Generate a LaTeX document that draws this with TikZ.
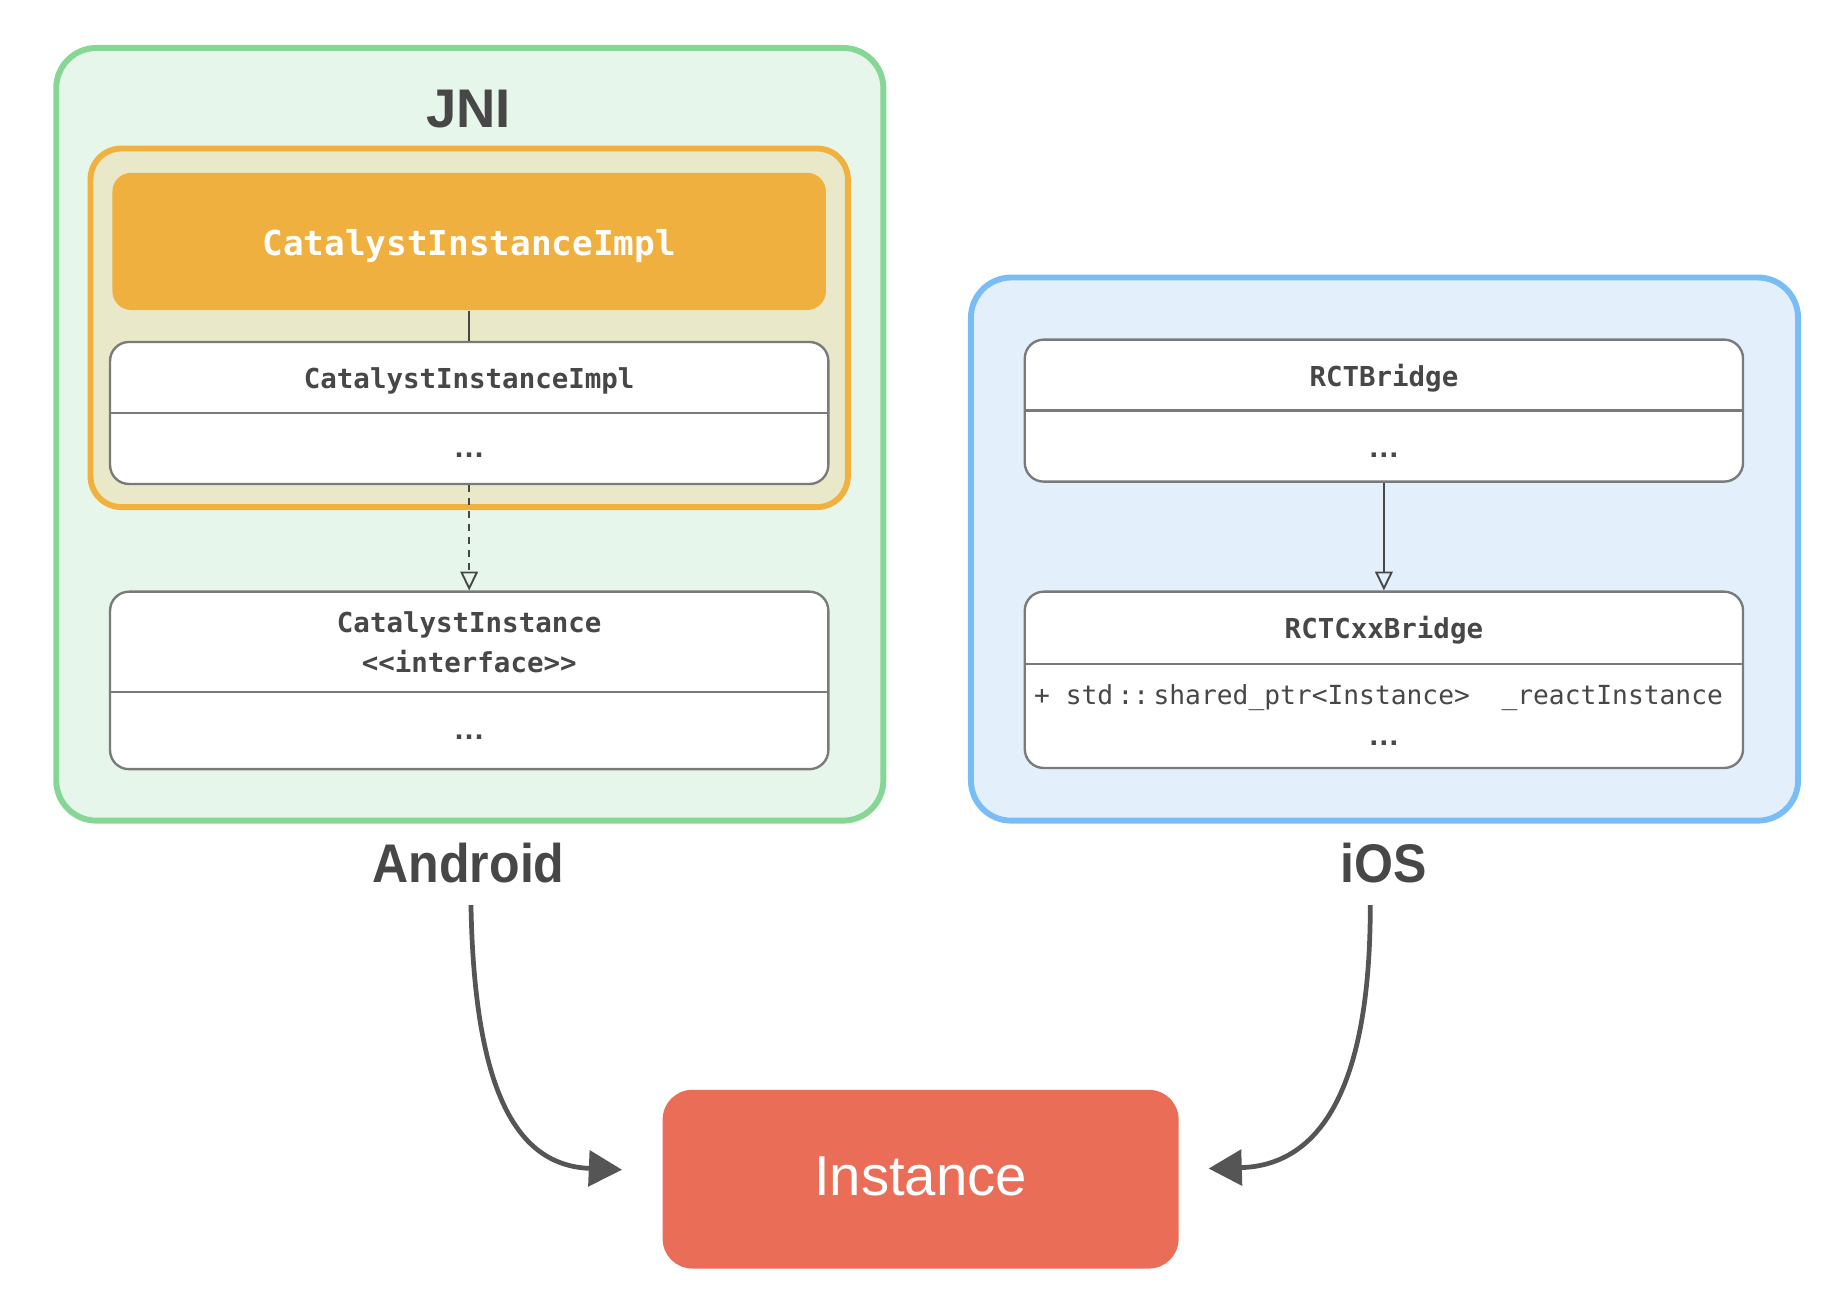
\documentclass[tikz,border=0pt]{standalone}
\usepackage{fontspec}
\setmainfont{Liberation Sans}
\newfontfamily\monof{DejaVu Sans Mono}
\usetikzlibrary{arrows.meta}
\definecolor{grS}{HTML}{86D696}
\definecolor{grF}{HTML}{E7F6EA}
\definecolor{orS}{HTML}{F0B13E}
\definecolor{orF}{HTML}{E9E8C9}
\definecolor{hdF}{HTML}{F0B03F}
\definecolor{blS}{HTML}{78BDF5}
\definecolor{blF}{HTML}{E3F0FC}
\definecolor{boxS}{HTML}{7A7A7A}
\definecolor{txt}{HTML}{474747}
\definecolor{instF}{HTML}{E96D57}
\definecolor{arr}{HTML}{555555}
\begin{document}
\begin{tikzpicture}[x=0.5pt,y=-0.5pt,
  group/.style={draw, line width=2.5pt, rounded corners=17pt, inner sep=0pt},
  classbox/.style={draw=boxS, line width=1pt, fill=white, rounded corners=8pt, minimum width=303.5pt, inner sep=0pt},
  divline/.style={draw=boxS, line width=1pt},
  ttl/.style={font=\monof\bfseries\fontsize{11.6pt}{13pt}\selectfont, text=txt, inner sep=0pt, text height=8.5pt, text depth=0pt},
  mem/.style={font=\monof\fontsize{11.1pt}{13pt}\selectfont, text=txt, inner sep=0pt, text height=8.1pt, text depth=0pt},
  dots/.style={font=\bfseries\fontsize{13pt}{15pt}\selectfont, text=txt, inner sep=0pt, anchor=base},
  biglbl/.style={font=\bfseries\fontsize{23pt}{26pt}\selectfont, text=txt, inner sep=0pt, text height=16.5pt, text depth=0pt},
  conn/.style={draw=txt, line width=0.8pt},
  curvearrow/.style={draw=arr, line width=2pt, -{Triangle[length=14pt,width=15pt]}}
]
\useasboundingbox (0,0) rectangle (1560,1092);

% Android group
\node[group, draw=grS, fill=grF, minimum width=349.5pt, minimum height=326.5pt] (android box) at (397,367) {};
\node[biglbl] (jni) at (396,91) {JNI};
\node[group, draw=orS, fill=orF, rounded corners=13pt, minimum width=320pt, minimum height=151.5pt] (jni box) at (396.5,277) {};
\node[fill=hdF, rounded corners=8pt, minimum width=301.5pt, minimum height=58pt, inner sep=0pt] (hdr) at (396.5,204) {};
\node[font=\monof\bfseries\fontsize{14.5pt}{16pt}\selectfont, text=white, inner sep=0pt, text height=10.6pt, text depth=0pt] (hdrtxt) at (396.5,205) {CatalystInstanceImpl};

\node[classbox, minimum height=60pt] (c1) at (396.5,349) {};
\draw[divline] (93,349) -- (700,349);
\node[ttl] (c1t) at (396.5,320) {CatalystInstanceImpl};
\node[dots] (c1d) at (396.5,387) {.\hspace{0.6pt}.\hspace{0.6pt}.};

\node[classbox, minimum height=75pt] (c2) at (396.5,575) {};
\draw[divline] (93,585) -- (700,585);
\node[ttl] (c2t) at (396.5,526) {CatalystInstance};
\node[ttl] (c2s) at (396.5,560) {<<interface>>};
\node[dots] (c2d) at (396.5,625) {.\hspace{0.6pt}.\hspace{0.6pt}.};

\draw[conn] (hdr.south) -- (c1.north);
\draw[conn, dash pattern=on 3pt off 2.5pt, -{Triangle[open, length=8pt, width=7.5pt]}] (c1.south) -- (c2.north);

% iOS group
\node[group, draw=blS, fill=blF, minimum width=349.5pt, minimum height=229.5pt] (ios box) at (1170,464) {};

\node[classbox, minimum height=60pt] (b1) at (1169.5,347) {};
\draw[divline] (866,347) -- (1473,347);
\node[ttl] (b1t) at (1169.5,318) {RCTBridge};
\node[dots] (b1d) at (1169.5,387) {.\hspace{0.6pt}.\hspace{0.6pt}.};

\node[classbox, minimum height=74.5pt] (b2) at (1169.5,574.5) {};
\draw[divline] (866,561) -- (1473,561);
\node[ttl] (b2t) at (1169.5,531) {RCTCxxBridge};
\node[mem] (b2m) at (1165,587) {+ std\,::\,shared\_ptr<Instance>\ \ \_reactInstance};
\node[dots] (b2d) at (1169.5,630) {.\hspace{0.6pt}.\hspace{0.6pt}.};

\draw[conn, -{Triangle[open, length=8pt, width=7.5pt]}] (b1.south) -- (b2.north);

% labels
\node[biglbl] (android) at (396,729) {\scalebox{0.92}[1]{Android}};
\node[biglbl] (ios) at (1169,729) {\scalebox{0.92}[1]{iOS}};

% Instance
\node[fill=instF, rounded corners=12.5pt, minimum width=218pt, minimum height=75.5pt, inner sep=0pt] (inst) at (778,996.5) {};
\node[font=\fontsize{23.8pt}{27pt}\selectfont, text=white, inner sep=0pt, text height=17pt, text depth=0pt] (insttxt) at (778,993) {Instance};

% curved arrows
\draw[curvearrow] ([yshift=-9.5pt]android.south -| 398,0) .. controls (401,930) and (440,985) .. ([xshift=-17pt,yshift=4pt]inst.west);
\draw[curvearrow] ([yshift=-9.5pt]ios.south -| 1158,0) .. controls (1158,930) and (1110,985) .. ([xshift=12.5pt,yshift=4.5pt]inst.east);
\end{tikzpicture}
\end{document}
